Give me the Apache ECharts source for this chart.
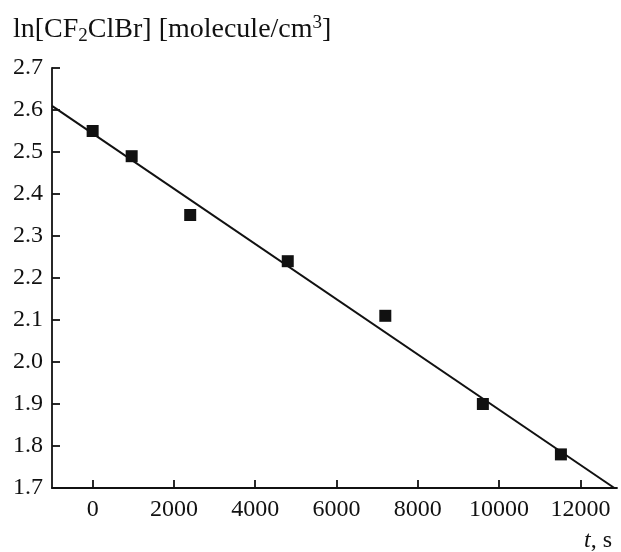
<!DOCTYPE html>
<html>
<head>
<meta charset="utf-8">
<script src="https://cdn.jsdelivr.net/npm/echarts@6/dist/echarts.min.js"></script>
<style>
html,body{margin:0;padding:0;background:#fff;}
#c{width:621px;height:552px;}
</style>
</head>
<body>
<div id="c"></div>
<script>
// Data
var times = [0, 960, 2400, 4800, 7200, 9600, 11520];
var lnConc = [2.55, 2.49, 2.35, 2.24, 2.11, 1.90, 1.78];
var fitT = [-1000, 12835];
var fitY = [2.61, 1.70];
var xTicks = [0, 2000, 4000, 6000, 8000, 10000, 12000];
var yTicks = [1.7, 1.8, 1.9, 2.0, 2.1, 2.2, 2.3, 2.4, 2.5, 2.6, 2.7];

var FONT = '"Liberation Serif", "Times New Roman", serif';
var INK = '#111';
var chart = echarts.init(document.getElementById('c'));
chart.setOption({
  animation: false,
  backgroundColor: '#fff',
  title: [{
    left: 8, top: 9,
    text: 'ln[CF{sub|2}ClBr] [molecule/cm{sup|3}]',
    textStyle: {
      fontFamily: FONT, fontSize: 28, fontWeight: 'normal', color: INK,
      rich: {
        sub: {fontFamily: FONT, fontSize: 19, color: INK, verticalAlign: 'bottom', padding: [13, 0, 0, 0]},
        sup: {fontFamily: FONT, fontSize: 19, color: INK, verticalAlign: 'top', padding: [0, 0, 13, 0]}
      }
    }
  }, {
    right: 4, top: 524,
    text: '{i|t}, s',
    textStyle: {
      fontFamily: FONT, fontSize: 24, fontWeight: 'normal', color: INK,
      rich: { i: {fontFamily: FONT, fontSize: 24, fontStyle: 'italic', color: INK} }
    }
  }],
  grid: {left: 52, right: 4, top: 68, bottom: 64, containLabel: false},
  xAxis: {
    type: 'value', min: -1000, max: 12900,
    axisLine: {show: true, onZero: false, lineStyle: {color: INK, width: 1.8}},
    axisTick: {show: true, inside: true, length: 8, customValues: xTicks, lineStyle: {color: INK, width: 1.8}},
    axisLabel: {show: true, customValues: xTicks, fontFamily: FONT, fontSize: 24, color: INK, margin: 10,
      formatter: function (v) { return String(v); }},
    splitLine: {show: false}
  },
  yAxis: {
    type: 'value', min: 1.7, max: 2.7,
    axisLine: {show: true, onZero: false, lineStyle: {color: INK, width: 1.8}},
    axisTick: {show: true, inside: true, length: 8, customValues: yTicks, lineStyle: {color: INK, width: 1.8}},
    axisLabel: {show: true, customValues: yTicks, fontFamily: FONT, fontSize: 24, color: INK, margin: 9,
      formatter: function (v) { return v.toFixed(1); }},
    splitLine: {show: false}
  },
  series: [{
    type: 'line',
    data: fitT.map(function (t, i) { return [t, fitY[i]]; }),
    showSymbol: false, symbol: 'none',
    lineStyle: {color: INK, width: 2},
    z: 2
  }, {
    type: 'scatter',
    data: times.map(function (t, i) { return [t, lnConc[i]]; }),
    symbol: 'rect', symbolSize: 12,
    itemStyle: {color: INK, opacity: 1},
    z: 3
  }]
});
</script>
</body>
</html>
